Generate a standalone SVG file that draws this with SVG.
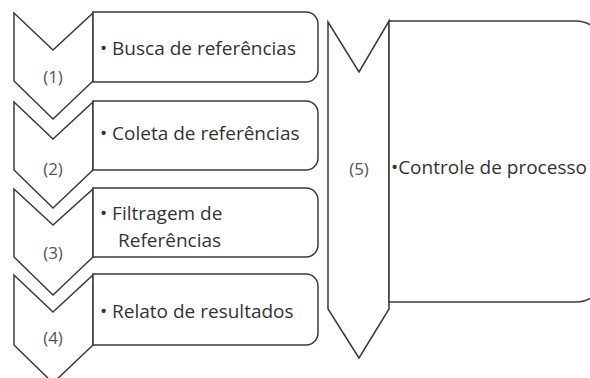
<svg xmlns="http://www.w3.org/2000/svg" width="590" height="378" viewBox="0 0 590 378">
<style>
.sh{fill:#fff;stroke:#3a3a3a;stroke-width:1.5;stroke-linejoin:miter}
.t{font-family:"Open Sans","Noto Sans",sans-serif;font-size:19px;fill:#333}
.n{font-family:"Open Sans","Noto Sans",sans-serif;font-size:17px;fill:#555;text-anchor:middle}
</style>
<rect width="590" height="378" fill="#fff"/>
<g id="step1">
<path class="sh" d="M14,13 L53,50 L93,13 L93,81 L53,119 L14,81 Z"/>
<path class="sh" d="M93,12 H306 A12,12 0 0 1 318,24 V70 A12,12 0 0 1 306,82 H93 Z"/>
<text class="n" x="53" y="83">(1)</text>
<text class="t" x="100" y="55">• Busca de referências</text>
</g>
<g id="step2">
<path class="sh" d="M14,102 L53,139 L93,102 L93,170 L53,208 L14,170 Z"/>
<path class="sh" d="M93,101 H306 A12,12 0 0 1 318,113 V158 A12,12 0 0 1 306,170 H93 Z"/>
<text class="n" x="53" y="175">(2)</text>
<text class="t" x="100" y="140">• Coleta de referências</text>
</g>
<g id="step3">
<path class="sh" d="M14,189 L53,225 L93,189 L93,257 L53,295 L14,257 Z"/>
<path class="sh" d="M93,188 H306 A12,12 0 0 1 318,200 V245 A12,12 0 0 1 306,257 H93 Z"/>
<text class="n" x="53" y="259">(3)</text>
<text class="t" x="100" y="220">• Filtragem de</text>
<text class="t" x="118" y="247">Referências</text>
</g>
<g id="step4">
<path class="sh" d="M14,275 L53,312 L93,275 L93,345 L53,383 L14,345 Z"/>
<path class="sh" d="M93,274 H306 A12,12 0 0 1 318,286 V333 A12,12 0 0 1 306,345 H93 Z"/>
<text class="n" x="53" y="344">(4)</text>
<text class="t" x="100" y="318">• Relato de resultados</text>
</g>
<g id="step5">
<path class="sh" d="M328,22 L359,72 L389,21 L389,309 L359,358 L328,309 Z"/>
<path class="sh" d="M389,21 H576 A28,28 0 0 1 604,49 V274 A28,28 0 0 1 576,302 H389 Z"/>
<text class="n" x="359" y="175">(5)</text>
<text class="t" x="391" y="174">•Controle de processo</text>
</g>
<g id="connectors"></g>
</svg>
